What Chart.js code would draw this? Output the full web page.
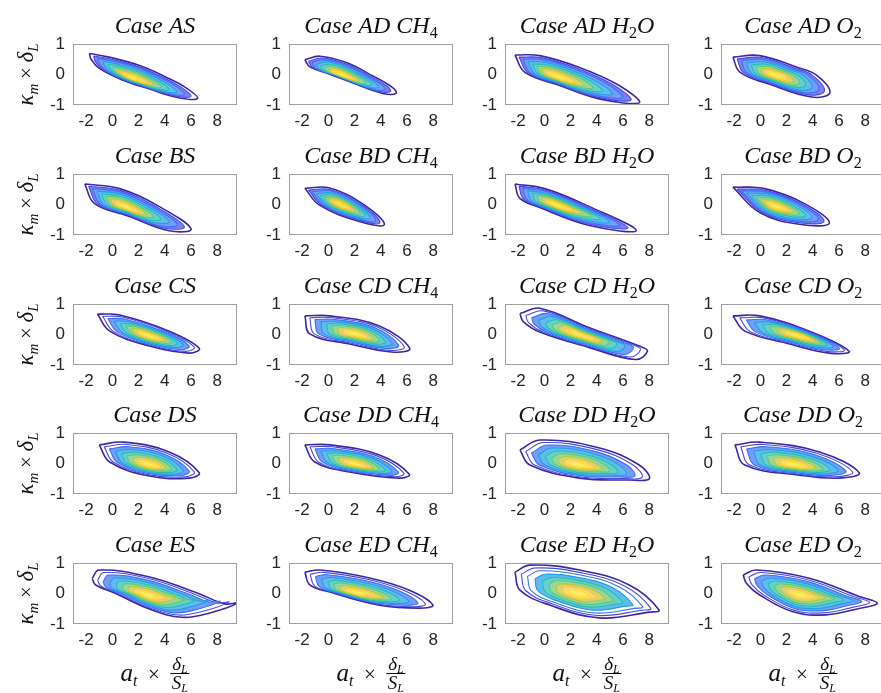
<!DOCTYPE html>
<html>
<head>
<meta charset="utf-8">
<script src="https://cdn.jsdelivr.net/npm/chart.js@4.4.1/dist/chart.umd.min.js"></script>
<style>
  html, body { margin: 0; padding: 0; background: #fff; overflow: hidden; }
  #grid { position: relative; width: 881px; height: 693px; }
  #grid canvas { position: absolute; }
</style>
</head>
<body>
<div id="grid"></div>
<script>
const xTicks = [-2, 0, 2, 4, 6, 8];
const yTicks = [-1, 0, 1];

const panelTitles = [
  "Case AS", "Case AD CH_4", "Case AD H_2O", "Case AD O_2",
  "Case BS", "Case BD CH_4", "Case BD H_2O", "Case BD O_2",
  "Case CS", "Case CD CH_4", "Case CD H_2O", "Case CD O_2",
  "Case DS", "Case DD CH_4", "Case DD H_2O", "Case DD O_2",
  "Case ES", "Case ED CH_4", "Case ED H_2O", "Case ED O_2",
];

// location of the density peak in each panel
const peakX = [1.5, 0.9, 0.8, 1.1, 0.8, 0.9, 0.8, 1.1, 2.8, 2.0, 2.6, 3.0, 2.8, 2.0, 2.5, 2.5, 2.6, 2.2, 2.5, 3.0];
const peakY = [-0.12, 0.0, -0.05, -0.02, -0.05, 0.0, 0.0, -0.05, -0.05, 0.02, 0.0, -0.05, -0.05, -0.02, -0.05, -0.05, -0.05, 0.0, 0.0, -0.05];

// outermost contour of each panel: left tip, upper edge, right tip, lower edge
const outlineX = [
  [-1.75, -0.26, 2.03, 4.05, 5.56, 6.5, 5.05, 2.78, 0.77, -0.99, -1.62],
  [-1.79, -0.65, 1.37, 3.39, 4.9, 5.16, 4.14, 2.13, 0.11, -1.41],
  [-2.24, -0.35, 2.68, 5.7, 7.23, 4.2, 1.17, -1.48],
  [-2.09, -0.05, 2.9, 4.3, 5.3, 3.9, 0.71, -1.56],
  [-2.1, 0.55, 3.58, 6.0, 4.33, 1.3, -1.35],
  [-1.79, 0.11, 2.76, 4.27, 2.38, -0.65],
  [-2.24, 0.03, 3.44, 7.0, 3.44, -0.35, -1.86],
  [-2.09, 0.33, 3.36, 5.26, 2.98, -0.05],
  [-1.14, 0.55, 4.33, 6.62, 5.86, 2.83, -0.2],
  [-1.79, 0.11, 3.89, 6.2, 5.0, 1.62, -1.41],
  [-1.86, -0.35, 3.44, 7.23, 7.86, 6.98, 3.44, -0.35, -1.61],
  [-2.09, -0.05, 3.74, 6.77, 5.26, 2.23, -1.18],
  [-1.0, 0.86, 4.33, 6.62, 5.86, 2.83, -0.2],
  [-1.79, 0.11, 3.89, 6.17, 5.41, 1.62, -1.03],
  [-1.86, -0.35, 4.2, 7.23, 8.0, 6.47, 2.68, -1.1],
  [-1.94, -0.05, 4.5, 7.53, 6.02, 2.98, -1.18],
  [-1.54, -1.02, 2.77, 6.56, 8.57, 9.6, 7.56, 5.29, 2.77, 0.25, -1.27],
  [-1.79, -0.65, 3.14, 6.17, 7.97, 6.92, 3.89, 0.11, -1.41],
  [-2.24, -1.1, 2.68, 6.47, 8.74, 8.0, 4.2, 0.41, -1.86],
  [-1.31, -0.3, 3.74, 7.53, 8.92, 7.53, 5.0, 2.48, -0.05, -1.05],
];
const outlineY = [
  [0.69, 0.57, 0.30, -0.08, -0.42, -0.78, -0.76, -0.47, -0.18, 0.2, 0.5],
  [0.48, 0.6, 0.39, -0.05, -0.43, -0.62, -0.62, -0.32, 0.01, 0.25],
  [0.64, 0.62, 0.23, -0.36, -0.93, -0.8, -0.36, 0.07],
  [0.57, 0.62, 0.22, -0.03, -0.6, -0.74, -0.32, 0.08],
  [0.67, 0.52, -0.07, -0.8, -0.86, -0.39, 0.03],
  [0.53, 0.54, -0.02, -0.66, -0.56, -0.03],
  [0.67, 0.52, -0.07, -0.85, -0.69, -0.1, 0.2],
  [0.57, 0.52, 0.03, -0.61, -0.65, -0.26],
  [0.67, 0.64, 0.11, -0.45, -0.61, -0.38, 0.11],
  [0.61, 0.61, 0.28, -0.45, -0.58, -0.31, 0.02],
  [0.69, 0.86, 0.22, -0.38, -0.54, -0.82, -0.43, 0.08, 0.42],
  [0.61, 0.61, 0.11, -0.55, -0.61, -0.31, 0.11],
  [0.61, 0.70, 0.38, -0.3, -0.48, -0.41, 0.05],
  [0.61, 0.61, 0.28, -0.35, -0.48, -0.28, 0.05],
  [0.44, 0.77, 0.51, -0.05, -0.5, -0.54, -0.48, -0.05],
  [0.61, 0.70, 0.38, -0.3, -0.48, -0.38, -0.05],
  [0.49, 0.77, 0.55, 0.0, -0.34, -0.3, -0.62, -0.78, -0.5, 0.0, 0.28],
  [0.7, 0.77, 0.51, 0.11, -0.38, -0.48, -0.38, 0.05, 0.28],
  [0.7, 0.93, 0.77, 0.28, -0.54, -0.61, -0.8, -0.38, 0.11],
  [0.61, 0.77, 0.5, -0.1, -0.32, -0.49, -0.7, -0.6, -0.05, 0.33],
];

// contour levels: size relative to the outer contour, and colormap position
const levelScale = [1, 0.9, 0.8, 0.68, 0.56, 0.45, 0.34, 0.24, 0.14];
const levelTone = [0, 0.1, 0.2, 0.32, 0.44, 0.55, 0.65, 0.76, 0.86];
// how many of the outer contours are drawn as open rings in each panel
const openRings = [1, 1, 1, 1, 1, 1, 1, 1, 2, 2, 2, 2, 2, 2, 2, 2, 2, 2, 3, 2];

const colLeft = [73, 289, 505, 721];
const rowTop = [44, 174, 304, 433, 563];
const plotW = 164, plotH = 61;
const padL = 73, padT = 44, padB = 90;

const parula = [
  [0.2422, 0.1504, 0.6603], [0.2810, 0.3228, 0.9579], [0.1786, 0.5289, 0.9682],
  [0.0689, 0.6948, 0.8394], [0.2161, 0.7843, 0.5923], [0.6720, 0.7793, 0.2227],
  [0.9970, 0.7659, 0.2199], [0.9619, 0.8964, 0.1713], [0.9769, 0.9839, 0.0805],
];
function colormap(t, mixWhite) {
  const p = t * (parula.length - 1);
  const i = Math.min(Math.floor(p), parula.length - 2);
  const f = p - i;
  const c = parula[i].map((v, j) => v + (parula[i + 1][j] - v) * f);
  const m = mixWhite || 0;
  const rgb = c.map(v => Math.round(255 * (v + (1 - v) * m)));
  return `rgb(${rgb[0]},${rgb[1]},${rgb[2]})`;
}

const serif = '"Liberation Serif", "DejaVu Serif", serif';
function fontOf(p) {
  return `${p.it ? "italic " : ""}${p.s}px ${serif}`;
}
function richWidth(ctx, parts) {
  let w = 0;
  parts.forEach(p => { ctx.font = fontOf(p); w += ctx.measureText(p.t).width; });
  return w;
}
function drawRich(ctx, parts, x, y) {
  let cx = x;
  parts.forEach(p => {
    ctx.font = fontOf(p);
    ctx.fillText(p.t, cx, y + (p.dy || 0));
    cx += ctx.measureText(p.t).width;
  });
}
// "CH_4" -> italic letters with an upright subscript digit
function titleParts(text) {
  const parts = [];
  text.split(/(_\d)/).forEach(seg => {
    if (!seg) return;
    if (seg[0] === "_") parts.push({ t: seg.slice(1), s: 16, dy: 5, it: false });
    else parts.push({ t: seg, s: 24, it: true });
  });
  return parts;
}

const yLabel = [
  { t: "κ", s: 23, it: true }, { t: "m", s: 15, dy: 5, it: true },
  { t: " × ", s: 20, it: false },
  { t: "δ", s: 23, it: true }, { t: "L", s: 15, dy: 5, it: true },
];
const xLabelHead = [
  { t: "a", s: 25, it: true }, { t: "t", s: 16, dy: 5, it: true },
  { t: "  ×  ", s: 21, it: false },
];
const xLabelNum = [{ t: "δ", s: 19, it: true }, { t: "L", s: 12, dy: 3, it: true }];
const xLabelDen = [{ t: "S", s: 19, it: true }, { t: "L", s: 12, dy: 3, it: true }];

const panelText = {
  id: "panelText",
  afterDraw(chart, args, opts) {
    const ctx = chart.ctx;
    const a = chart.chartArea;
    const cxMid = (a.left + a.right) / 2;
    ctx.save();
    ctx.fillStyle = "#111";
    ctx.textBaseline = "alphabetic";
    const tp = titleParts(opts.title);
    drawRich(ctx, tp, cxMid - richWidth(ctx, tp) / 2, a.top - 11);

    if (opts.yTitle) {
      ctx.save();
      ctx.translate(26, (a.top + a.bottom) / 2);
      ctx.rotate(-Math.PI / 2);
      drawRich(ctx, yLabel, -richWidth(ctx, yLabel) / 2, 7);
      ctx.restore();
    }
    if (opts.xTitle) {
      const wh = richWidth(ctx, xLabelHead);
      const wn = richWidth(ctx, xLabelNum);
      const wd = richWidth(ctx, xLabelDen);
      const wf = Math.max(wn, wd) + 3;
      const x0 = cxMid - (wh + wf) / 2;
      const base = a.bottom + 57;
      drawRich(ctx, xLabelHead, x0, base);
      const fx = x0 + wh;
      ctx.fillRect(fx, base - 8, wf, 1);
      drawRich(ctx, xLabelNum, fx + (wf - wn) / 2, base - 11);
      drawRich(ctx, xLabelDen, fx + (wf - wd) / 2, base + 8);
    }
    ctx.restore();
  },
};

const frame = {
  id: "frame",
  afterDatasetsDraw(chart) {
    const ctx = chart.ctx;
    const a = chart.chartArea;
    ctx.save();
    ctx.strokeStyle = "#a0a0a0";
    ctx.lineWidth = 1;
    ctx.strokeRect(a.left + 0.5, a.top + 0.5, a.right - a.left - 1, a.bottom - a.top - 1);
    ctx.restore();
  },
};

function contourSets(i) {
  const px = peakX[i], py = peakY[i];
  return levelScale.map((s, k) => {
    const pts = outlineX[i].map((x, j) => ({
      x: px + s * (x - px),
      y: py + s * (outlineY[i][j] - py),
    }));
    pts.push(pts[0]);
    const hollow = k < openRings[i];
    return {
      data: pts,
      showLine: true,
      pointRadius: 0,
      tension: 0.4,
      borderWidth: k === 0 ? 1.6 : 1.1,
      borderColor: colormap(levelTone[k]),
      backgroundColor: colormap(levelTone[k], 0.3),
      fill: hollow ? false : "shape",
      order: levelScale.length - k,
    };
  });
}

const grid = document.getElementById("grid");
panelTitles.forEach((title, i) => {
  const r = Math.floor(i / 4), c = i % 4;
  const canvas = document.createElement("canvas");
  const w = padL + plotW + 2, h = padT + plotH + padB;
  canvas.width = w; canvas.height = h;
  canvas.style.left = (colLeft[c] - padL) + "px";
  canvas.style.top = (rowTop[r] - padT) + "px";
  canvas.style.width = w + "px"; canvas.style.height = h + "px";
  grid.appendChild(canvas);

  new Chart(canvas, {
    type: "scatter",
    data: { datasets: contourSets(i) },
    options: {
      responsive: false,
      animation: false,
      devicePixelRatio: 1,
      layout: { padding: { top: padT, right: 2, bottom: padB - 30, left: 0 } },
      scales: {
        x: {
          type: "linear",
          min: -3,
          max: 9.5,
          afterFit: s => { s.height = 30; },
          afterBuildTicks: s => { s.ticks = xTicks.map(v => ({ value: v })); },
          grid: { display: false, drawTicks: false },
          border: { display: false },
          ticks: {
            padding: 6,
            autoSkip: false,
            maxRotation: 0,
            color: "#262626",
            font: { family: '"Liberation Sans", Arial, sans-serif', size: 17 },
            callback: v => String(v),
          },
        },
        y: {
          type: "linear",
          min: -1,
          max: 1,
          afterFit: s => { s.width = padL; },
          afterBuildTicks: s => { s.ticks = yTicks.map(v => ({ value: v })); },
          grid: { display: false, drawTicks: false },
          border: { display: false },
          ticks: {
            padding: 8,
            color: "#262626",
            font: { family: '"Liberation Sans", Arial, sans-serif', size: 17 },
            callback: v => String(v),
          },
        },
      },
      plugins: {
        legend: { display: false },
        tooltip: { enabled: false },
        panelText: { title: title, yTitle: c === 0, xTitle: r === 4 },
      },
    },
    plugins: [frame, panelText],
  });
});
</script>
</body>
</html>
